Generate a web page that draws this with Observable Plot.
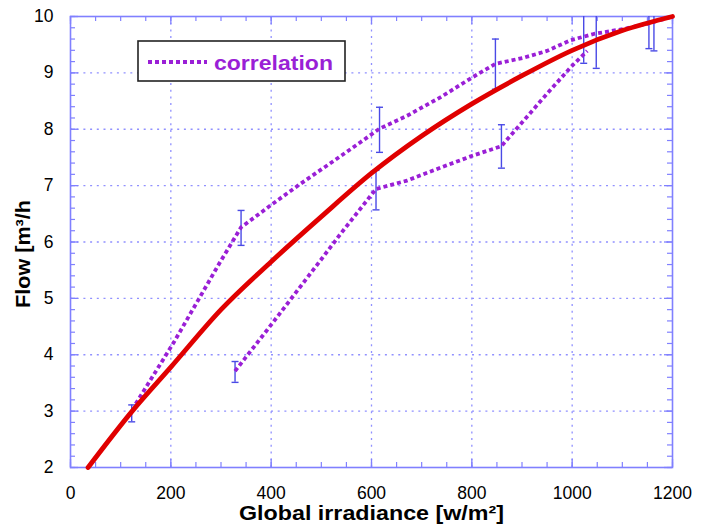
<!DOCTYPE html>
<html>
<head>
<meta charset="utf-8">
<script src="https://cdn.jsdelivr.net/npm/d3@7"></script>
<script src="https://cdn.jsdelivr.net/npm/@observablehq/plot@0.6"></script>
<style>
  html, body { margin: 0; padding: 0; background: #fff; }
  #wrap { position: relative; width: 703px; height: 525px; }
  #legend { position: absolute; left: 137px; top: 40px; }
</style>
</head>
<body>
<div id="wrap"></div>
<script>
// ---- data ----
const redX = [35, 123, 200, 300, 400, 500, 600, 700, 800, 900, 1000, 1100, 1200];
const redY = [2.0, 3.0, 3.78, 4.8, 5.65, 6.45, 7.22, 7.88, 8.45, 8.95, 9.40, 9.75, 10.0];

const upX = [130, 206, 296, 340, 399, 458, 525, 578, 616, 671, 738, 801, 847, 904, 950, 997, 1043, 1103, 1149, 1200];
const upY = [3.13, 4.22, 5.61, 6.26, 6.65, 7.03, 7.44, 7.77, 8.01, 8.24, 8.57, 8.92, 9.16, 9.27, 9.39, 9.58, 9.69, 9.78, 9.87, 10.0];

const loX = [328, 399, 498, 538, 609, 671, 738, 801, 859, 897, 950, 997, 1030];
const loY = [3.71, 4.52, 5.67, 6.14, 6.94, 7.09, 7.32, 7.53, 7.70, 8.09, 8.63, 9.10, 9.39];

const ebX  = [122, 328, 340, 609, 616, 847, 859, 1023, 1048, 1153, 1163];
const ebLo = [2.81, 3.51, 5.94, 6.57, 7.59, 8.71, 7.31, 9.17, 9.08, 9.43, 9.39];
const ebHi = [3.11, 3.88, 6.56, 7.27, 8.39, 9.60, 8.08, 10.3, 10.3, 10.3, 10.3];

const xTicks = [0, 200, 400, 600, 800, 1000, 1200];
const yTicks = [2, 3, 4, 5, 6, 7, 8, 9, 10];
const xGrid = [200, 400, 600, 800, 1000];
const yGrid = [3, 4, 5, 6, 7, 8, 9];
const xMinor = d3.range(0, 1201, 50);
const yMinor = d3.range(2, 10.001, 0.2);

const xLabel = "Global irradiance [w/m²]";
const yLabel = "Flow [m³/h";
const legendLabel = "correlation";

// ---- tables ----
const red = redX.map((x, i) => ({x, y: redY[i]}));
const up = upX.map((x, i) => ({x, y: upY[i]}));
const lo = loX.map((x, i) => ({x, y: loY[i]}));
const eb = ebX.map((x, i) => ({x, lo: ebLo[i], hi: ebHi[i]}));

const W = 703, H = 525, mL = 70, mR = 31, mT = 16, mB = 58;
const iw = W - mL - mR, ih = H - mT - mB;
const frameBlue = "#8080ff";
const gridBlue = "#9090ff";
const barBlue = "#4a4ae6";
const purple = "#9a1fd6";
const red_ = "#e00000";

const cap = { draw(ctx) { ctx.moveTo(-3.5, 0); ctx.lineTo(3.5, 0); } };

const chart = Plot.plot({
  width: W, height: H,
  marginLeft: mL, marginRight: mR, marginTop: mT, marginBottom: mB,
  style: { fontFamily: "Liberation Sans, Arial, sans-serif", color: "#000", background: "#fff" },
  x: { domain: [0, 1200] },
  y: { domain: [2, 10] },
  marks: [
    Plot.gridX(xGrid, { stroke: gridBlue, strokeOpacity: 1, strokeWidth: 1.3, strokeDasharray: "2,4.7" }),
    Plot.gridY(yGrid, { stroke: gridBlue, strokeOpacity: 1, strokeWidth: 1.3, strokeDasharray: "2,4.7" }),
    // inward minor ticks on all four sides
    Plot.tickX(xMinor, { x: d => d, insetTop: ih - 5, stroke: frameBlue, strokeWidth: 1.2 }),
    Plot.tickX(xMinor, { x: d => d, insetBottom: ih - 5, stroke: frameBlue, strokeWidth: 1.2 }),
    Plot.tickY(yMinor, { y: d => d, insetRight: iw - 5, stroke: frameBlue, strokeWidth: 1.2 }),
    Plot.tickY(yMinor, { y: d => d, insetLeft: iw - 5, stroke: frameBlue, strokeWidth: 1.2 }),
    Plot.tickX(xTicks, { x: d => d, insetTop: ih - 8, stroke: frameBlue, strokeWidth: 1.3 }),
    Plot.tickX(xTicks, { x: d => d, insetBottom: ih - 8, stroke: frameBlue, strokeWidth: 1.3 }),
    Plot.tickY(yTicks, { y: d => d, insetRight: iw - 8, stroke: frameBlue, strokeWidth: 1.3 }),
    Plot.tickY(yTicks, { y: d => d, insetLeft: iw - 8, stroke: frameBlue, strokeWidth: 1.3 }),
    Plot.frame({ stroke: frameBlue, strokeWidth: 1.6 }),
    Plot.axisX({ ticks: xTicks, tickSize: 0, tickPadding: 19, fontSize: 17.5, label: null, tickFormat: d => String(d) }),
    Plot.axisY({ ticks: yTicks, tickSize: 0, tickPadding: 17, fontSize: 17.5, label: null, tickFormat: d => String(d) }),
    // error bars
    Plot.ruleX(eb, { x: "x", y1: "lo", y2: "hi", stroke: barBlue, strokeWidth: 1.4, clip: true }),
    Plot.dot(eb, { x: "x", y: "lo", symbol: cap, stroke: barBlue, strokeWidth: 1.4, fill: "none", clip: true }),
    Plot.dot(eb, { x: "x", y: "hi", symbol: cap, stroke: barBlue, strokeWidth: 1.4, fill: "none", clip: true }),
    // correlation (dotted)
    Plot.line(up, { x: "x", y: "y", stroke: purple, strokeWidth: 3.8, strokeDasharray: "4,3", strokeLinecap: "butt" }),
    Plot.line(lo, { x: "x", y: "y", stroke: purple, strokeWidth: 3.8, strokeDasharray: "4,3", strokeLinecap: "butt" }),
    // fitted curve
    Plot.line(red, { x: "x", y: "y", stroke: red_, strokeWidth: 4.8, curve: "monotone-x" }),
    // axis titles
    Plot.text([xLabel], { frameAnchor: "bottom", dy: 46, fontSize: 19.5, fontWeight: "bold", fill: "#000", lineAnchor: "middle", textAnchor: "middle" }),
    Plot.text([yLabel], { frameAnchor: "left", dx: -46.5, dy: 12, rotate: -90, fontSize: 19.5, fontWeight: "bold", fill: "#000", lineAnchor: "middle", textAnchor: "middle" })
  ]
});

// the reference's lettering is slightly wide: stretch the two titles to its measured lengths
for (const t of chart.querySelectorAll("text")) {
  if (t.textContent === xLabel) { t.setAttribute("textLength", 265); t.setAttribute("lengthAdjust", "spacingAndGlyphs"); }
  if (t.textContent === yLabel) { t.setAttribute("textLength", 108); t.setAttribute("lengthAdjust", "spacingAndGlyphs"); }
}

const wrap = document.getElementById("wrap");
wrap.appendChild(chart);

// legend overlay
const ns = "http://www.w3.org/2000/svg";
const lg = document.createElementNS(ns, "svg");
lg.setAttribute("id", "legend");
lg.setAttribute("width", 209);
lg.setAttribute("height", 42);
lg.innerHTML = `
  <rect x="1" y="1" width="207" height="40" fill="#fff" stroke="#222" stroke-width="1.6"/>
  <line x1="11" y1="22" x2="70" y2="22" stroke="${purple}" stroke-width="3.8" stroke-dasharray="4,3"/>
  <text x="77" y="30" fill="${purple}" font-family="Liberation Sans, Arial, sans-serif" font-weight="bold" font-size="21" textLength="119" lengthAdjust="spacingAndGlyphs">${legendLabel}</text>`;
wrap.appendChild(lg);
</script>
</body>
</html>
